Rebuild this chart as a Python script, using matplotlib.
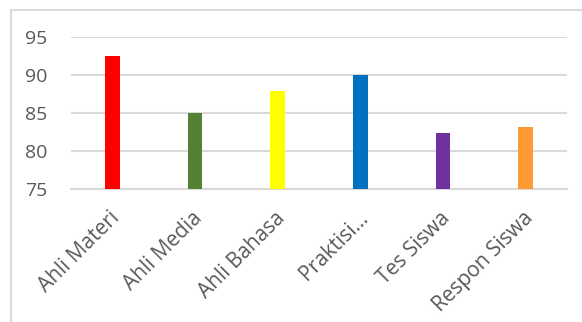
import matplotlib
matplotlib.use("Agg")
import matplotlib.pyplot as plt
from matplotlib.patches import Rectangle
from matplotlib.transforms import ScaledTranslation

categories = ["Ahli Materi", "Ahli Media", "Ahli Bahasa", "Praktisi…", "Tes Siswa", "Respon Siswa"]
values = [92.5, 85.0, 87.9, 90.0, 82.4, 83.2]
colors = ["#FF0000", "#548235", "#FFFF00", "#0070C0", "#7030A0", "#FF9933"]
yticks = [75, 80, 85, 90, 95]

text_color = "#595959"
grid_color = "#D9D9D9"

plt.rcParams["font.family"] = ["Open Sans", "DejaVu Sans"]

fig = plt.figure(figsize=(5.82, 3.22), dpi=100)
ax = fig.add_axes([71 / 582, 1 - 189 / 322, 496 / 582, 152 / 322])

x = range(len(categories))
ax.bar(x, [v - 75 for v in values], bottom=75, width=0.18, color=colors, zorder=3)

ax.set_xlim(-0.5, len(categories) - 0.5)
ax.set_ylim(75, 95)
ax.set_yticks(yticks)
ax.set_yticklabels([str(t) for t in yticks], fontsize=14, color=text_color)
ax.set_xticks(list(x))
ax.set_xticklabels(categories, rotation=45, ha="right", va="top",
                   rotation_mode="anchor", fontsize=15, color=text_color)
ax.tick_params(axis="both", length=0)
ax.tick_params(axis="y", pad=17)
ax.tick_params(axis="x", pad=13.5)

# small horizontal nudge of the category labels
shift = ScaledTranslation(-0.03, 0, fig.dpi_scale_trans)
for label in ax.get_xticklabels():
    label.set_transform(label.get_transform() + shift)

ax.grid(axis="y", color=grid_color, linewidth=1.5, zorder=0)
for side in ["top", "right", "left"]:
    ax.spines[side].set_visible(False)
ax.spines["bottom"].set_color(grid_color)
ax.spines["bottom"].set_linewidth(1.5)

# outer chart border (cropped at right and bottom)
fig.patches.append(Rectangle((11 / 582, -0.1), 1.0, 1 - 10 / 322 + 0.1,
                             transform=fig.transFigure, fill=False,
                             edgecolor=grid_color, linewidth=1.5))

fig.savefig("out.png", dpi=100)
